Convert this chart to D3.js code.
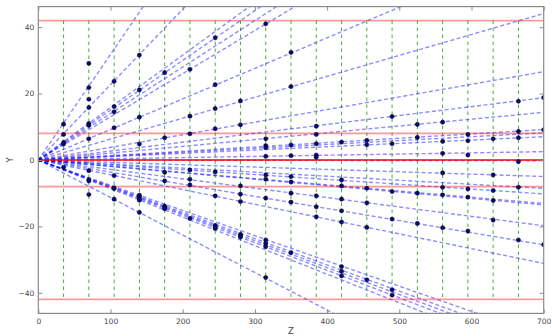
<!DOCTYPE html>
<html><head><meta charset="utf-8">
<script src="https://cdn.jsdelivr.net/npm/d3@7"></script>
<style>body{margin:0;background:#fff}svg{display:block}</style>
</head><body>
<svg id="c" width="552" height="336"></svg>
<script>
// ---- data ----
const xTicks = [0,100,200,300,400,500,600,700];
const yTicks = [-40,-20,0,20,40];
const layers = [35,70,105,140,175,210,245,280,315,350,385,420,455,490,525,560,595,630,665];
const boundaries = [42,8,-8,-42];
const centerLine = [0];
const trackSlopes = [0.318,0.227,0.158,0.150,0.140,0.130,0.092,0.063,0.038,0.0268,0.0205,0.0131,0.0117,0.0100,0.0036,
  -0.0003,-0.0071,-0.0122,-0.0146,-0.0187,-0.0193,-0.0283,-0.0365,-0.0445,-0.076,-0.079,-0.081,-0.083,-0.086,-0.113];
const hits = [
[0,0],
[35,10.8],[35,7.7],[35,5.3],[35,4.8],[35,-2.2],
[70,29.1],[70,21.8],[70,18.3],[70,15.8],[70,11.0],[70,10.5],[70,6.4],[70,-3.2],[70,-6.0],[70,-6.3],[70,-10.4],
[105,23.7],[105,16.1],[105,14.5],[105,9.7],[105,-4.7],[105,-8.4],[105,-8.6],[105,-11.8],
[140,31.6],[140,21.1],[140,12.9],[140,4.8],[140,-10.6],[140,-11.1],[140,-11.6],[140,-12.1],[140,-15.8],
[175,26.3],[175,6.7],[175,-3.7],[175,-6.3],[175,-13.9],[175,-14.4],[175,-14.7],
[210,27.3],[210,13.2],[210,7.9],[210,-3.0],[210,-5.8],[210,-7.5],[210,-17.6],
[245,36.8],[245,22.7],[245,15.5],[245,9.4],[245,-3.6],[245,-10.8],[245,-19.7],[245,-20.2],[245,-20.6],
[280,17.8],[280,10.6],[280,-7.8],[280,-10.3],[280,-12.5],[280,-22.4],[280,-22.9],[280,-23.2],
[315,41.0],[315,6.4],[315,4.3],[315,3.7],[315,1.1],[315,-4.5],[315,-5.8],[315,-11.5],[315,-24.1],[315,-25.1],[315,-26.1],[315,-35.4],
[350,32.4],[350,22.1],[350,4.5],[350,1.3],[350,-5.0],[350,-6.6],[350,-10.0],[350,-12.7],[350,-27.9],
[385,10.2],[385,7.7],[385,4.9],[385,1.5],[385,0.8],[385,-10.8],[385,-14.1],[385,-17.1],
[420,5.4],[420,-6.0],[420,-7.8],[420,-11.8],[420,-15.3],[420,-18.7],[420,-32.1],[420,-33.5],[420,-34.9],
[455,5.9],[455,4.6],[455,-8.5],[455,-12.9],[455,-20.3],[455,-36.1],
[490,13.1],[490,4.9],[490,-9.5],[490,-17.8],[490,-39.1],[490,-40.7],
[525,10.7],[525,6.8],[525,-10.0],[525,-19.1],
[560,11.4],[560,5.6],[560,2.0],[560,-3.9],[560,-8.2],[560,-10.5],[560,-20.4],
[595,7.7],[595,5.8],[595,1.5],[595,-8.7],[595,-11.2],[595,-21.4],
[630,6.4],[630,-4.5],[630,-9.2],[630,-12.2],[630,-18.1],
[665,17.7],[665,8.6],[665,6.7],[665,-0.5],[665,-8.2],[665,-24.1],
[700,18.8],[700,9.1],[700,-25.5]
];
const xDomain = [0,700];
const yDomain = [-46.2,46.2];

// ---- drawing ----
const svg = d3.select('#c');
const L = 38.3, R = 543.7, T = 6.6, B = 313.4;
const x = d3.scaleLinear().domain(xDomain).range([L,R]);
const y = d3.scaleLinear().domain(yDomain).range([B,T]);

svg.append('defs').append('clipPath').attr('id','clip')
  .append('rect').attr('x',L).attr('y',T).attr('width',R-L).attr('height',B-T);
const g = svg.append('g').attr('clip-path','url(#clip)');

// green layers
g.selectAll('line.layer').data(layers).join('line')
  .attr('x1',d=>x(d)).attr('x2',d=>x(d))
  .attr('y1',y(42)).attr('y2',y(-42))
  .attr('stroke','#1a961a').attr('stroke-width',1).attr('stroke-opacity',0.8)
  .attr('stroke-dasharray','3.5,3.5');

// tracks
g.selectAll('line.track').data(trackSlopes).join('line')
  .attr('x1',x(0)).attr('y1',y(0))
  .attr('x2',x(700)).attr('y2',d=>y(700*d))
  .attr('stroke','#0000ff').attr('stroke-opacity',0.45).attr('stroke-width',1.4)
  .attr('stroke-dasharray','4,2.5');

// red boundaries
g.selectAll('line.bound').data(boundaries).join('line')
  .attr('x1',L).attr('x2',R).attr('y1',d=>y(d)).attr('y2',d=>y(d))
  .attr('stroke','#ff0000').attr('stroke-opacity',0.4).attr('stroke-width',1.8);
g.selectAll('line.center').data(centerLine).join('line')
  .attr('x1',L).attr('x2',R).attr('y1',d=>y(d)).attr('y2',d=>y(d))
  .attr('stroke','#ff0000').attr('stroke-opacity',0.75).attr('stroke-width',1.8);

// hits
g.selectAll('circle').data(hits).join('circle')
  .attr('cx',d=>x(d[0])).attr('cy',d=>y(d[1])).attr('r',2.1)
  .attr('fill','#0a0a80').attr('stroke','#000').attr('stroke-width',0.5);

// frame & ticks
const frameCol = '#8a8a8a';
svg.append('rect').attr('x',L).attr('y',T).attr('width',R-L).attr('height',B-T)
  .attr('fill','none').attr('stroke',frameCol).attr('stroke-width',1.2);

const fnt = 'DejaVu Sans, sans-serif';
const axB = svg.append('g').attr('transform',`translate(0,${B})`)
  .call(d3.axisBottom(x).tickValues(xTicks).tickSizeInner(-4).tickSizeOuter(0).tickPadding(6).tickFormat(d3.format('d')));
const axT = svg.append('g').attr('transform',`translate(0,${T})`)
  .call(d3.axisTop(x).tickValues(xTicks).tickSizeInner(-4).tickSizeOuter(0).tickFormat(''));
const axL = svg.append('g').attr('transform',`translate(${L},0)`)
  .call(d3.axisLeft(y).tickValues(yTicks).tickSizeInner(-4).tickSizeOuter(0).tickPadding(4).tickFormat(d=>d<0?'\u2212'+Math.abs(d):d));
const axR = svg.append('g').attr('transform',`translate(${R},0)`)
  .call(d3.axisRight(y).tickValues(yTicks).tickSizeInner(-4).tickSizeOuter(0).tickFormat(''));
[axB,axT,axL,axR].forEach(a=>{
  a.select('.domain').remove();
  a.selectAll('line').attr('stroke',frameCol).attr('stroke-width',1);
  a.selectAll('text').attr('fill','#444').attr('font-family',fnt).attr('font-size',7.5);
});
axB.selectAll('text').attr('dy','0.71em').attr('y',5.5);

svg.append('text').attr('x',(L+R)/2).attr('y',334).attr('text-anchor','middle')
  .attr('font-family',fnt).attr('font-size',8.5).attr('fill','#444').text('Z');
svg.append('text').attr('transform','translate(12.5,160) rotate(-90)').attr('text-anchor','middle')
  .attr('font-family',fnt).attr('font-size',8.5).attr('fill','#444').text('Y');
</script>
</body></html>
